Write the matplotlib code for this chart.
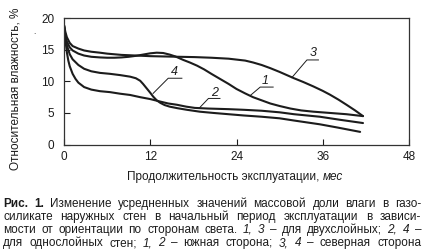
import matplotlib
matplotlib.use('Agg')
import matplotlib.pyplot as plt

plt.rcParams['font.family'] = ['Liberation Sans', 'DejaVu Sans']

# Curve 1 - two-layer walls, south side
months_1 = [0, 0.2, 0.4, 0.8, 1.2, 2, 2.8, 3.8, 5, 6, 7, 8, 9, 10, 11, 12, 12.9, 13.8,
            14.7, 15.5, 16.6, 17.5, 18.5, 19.5, 20.5, 21.7, 22.9, 24, 25.2, 26.3, 27.5,
            28.7, 30, 31.5, 33, 34.7, 37, 39.3, 41.6]
moist_1 = [18.9, 17.2, 16.3, 15.4, 14.9, 14.4, 14.1, 13.9, 13.8, 13.75, 13.75, 13.8, 13.9,
           14.05, 14.25, 14.45, 14.55, 14.5, 14.25, 13.95, 13.4, 13.0, 12.5, 11.9, 11.2,
           10.4, 9.6, 8.8, 8.1, 7.5, 7.0, 6.5, 6.1, 5.7, 5.4, 5.2, 5.0, 4.8, 4.5]

# Curve 2 - single-layer walls, south side
months_2 = [0, 0.2, 0.4, 0.6, 0.8, 1.2, 1.6, 2, 2.8, 3.8, 5, 6.4, 7.8, 9.2, 10.6, 12,
            13.4, 14.5, 15.7, 17, 18.2, 20, 22.9, 25, 27.5, 30, 32, 35.6, 38.5, 41.6]
moist_2 = [18.9, 16.5, 14.6, 13.3, 12.4, 11.2, 10.4, 9.8, 9.1, 8.7, 8.45, 8.3, 8.05, 7.85,
           7.5, 7.2, 6.8, 6.5, 6.3, 6.0, 5.8, 5.7, 5.6, 5.5, 5.35, 5.1, 4.8, 4.4, 3.9, 3.4]

# Curve 3 - two-layer walls, north side
months_3 = [0, 0.2, 0.4, 0.8, 1.2, 2, 2.8, 3.8, 5, 6, 8, 10, 12, 14, 16, 18.2, 20.5,
            22.9, 25.2, 26.3, 27.5, 28.7, 30, 31, 32, 33.3, 34.7, 36, 37, 38.2, 39.3,
            40.5, 41.6]
moist_3 = [18.9, 17.8, 17.0, 16.1, 15.6, 15.2, 14.9, 14.7, 14.55, 14.4, 14.2, 14.1, 14.0,
           13.95, 13.9, 13.85, 13.75, 13.6, 13.3, 13.0, 12.6, 12.1, 11.5, 11.0, 10.5, 9.9,
           9.2, 8.5, 7.9, 7.1, 6.3, 5.4, 4.5]

# Curve 4 - single-layer walls, north side
months_4 = [0, 0.2, 0.4, 0.8, 1.2, 2, 2.8, 3.8, 5, 6.4, 7.8, 9.2, 10, 10.6, 11, 11.5,
            12, 12.4, 12.9, 13.4, 14, 14.7, 15.8, 17.1, 18.9, 20.8, 22.9, 25, 27.5,
            30, 32, 35.6, 38, 41.2]
moist_4 = [18.9, 17.0, 15.7, 14.3, 13.5, 12.6, 12.0, 11.6, 11.35, 11.2, 11.0, 10.75, 10.5,
           10.1, 9.6, 8.9, 8.2, 7.6, 7.0, 6.6, 6.25, 6.0, 5.75, 5.5, 5.2, 5.0, 4.8, 4.6,
           4.4, 4.15, 3.8, 3.2, 2.7, 2.0]

x_ticks = [0, 12, 24, 36, 48]
y_ticks = [0, 5, 10, 15, 20]

# curve labels: text, text pos, underline x-range and y, pointer end
curve_labels = [
    ('4', (15.4, 11.5), (14.5, 16.4, 10.5), (12.4, 8.1)),
    ('2', (21.0, 8.1), (20.1, 21.7, 7.3), (18.8, 5.75)),
    ('1', (28.0, 10.0), (27.3, 29.1, 9.1), (25.9, 7.75)),
    ('3', (34.7, 14.45), (33.8, 35.4, 13.4), (31.7, 10.6)),
]

ylabel = 'Относительная влажность, %'
xlabel_runs = [('Продолжительность эксплуатации, ', 'normal'), ('мес', 'italic')]

# caption lines: (word, style)
caption = [
    [('Рис.', 'bold'), ('1.', 'bold'), ('Изменение', 'n'), ('усредненных', 'n'), ('значений', 'n'),
     ('массовой', 'n'), ('доли', 'n'), ('влаги', 'n'), ('в', 'n'), ('газо-', 'n')],
    [('силикате', 'n'), ('наружных', 'n'), ('стен', 'n'), ('в', 'n'), ('начальный', 'n'),
     ('период', 'n'), ('эксплуатации', 'n'), ('в', 'n'), ('зависи-', 'n')],
    [('мости', 'n'), ('от', 'n'), ('ориентации', 'n'), ('по', 'n'), ('сторонам', 'n'), ('света.', 'n'),
     ('1,', 'i'), ('3', 'i'), ('–', 'n'), ('для', 'n'), ('двухслойных;', 'n'), ('2,', 'i'), ('4', 'i'), ('–', 'n')],
    [('для', 'n'), ('однослойных', 'n'), ('стен;', 'n'), ('1,', 'i'), ('2', 'i'), ('–', 'n'),
     ('южная', 'n'), ('сторона;', 'n'), ('3,', 'i'), ('4', 'i'), ('–', 'n'), ('северная', 'n'), ('сторона', 'n')],
]

W, H = 423, 250
ink = '#1c1c1c'
fs = 8.5

fig = plt.figure(figsize=(W / 100, H / 100), dpi=100)
ax = fig.add_axes([64 / W, 1 - 144.5 / H, 345 / W, 126.2 / H])

for xs, ys in [(months_1, moist_1), (months_2, moist_2), (months_3, moist_3), (months_4, moist_4)]:
    ax.plot(xs, ys, color=ink, lw=1.5, solid_capstyle='round', solid_joinstyle='round')

for name, (tx, ty), (ux0, ux1, uy), (px, py) in curve_labels:
    ax.text(tx, ty, name, ha='center', va='center', fontsize=9, style='italic', color=ink)
    ax.plot([px, ux0, ux1], [py, uy, uy], color=ink, lw=0.7)

ax.set_xlim(0, 48)
ax.set_ylim(0, 20)
ax.set_xticks(x_ticks)
ax.set_yticks(y_ticks)
ax.tick_params(direction='in', length=4, width=0.8, colors=ink, labelsize=fs)
ax.tick_params(axis='x', pad=4.5)
ax.tick_params(axis='y', pad=7)
for sp in ax.spines.values():
    sp.set_color('#333333')
    sp.set_linewidth(0.9)

fig.text(16 / W, 1 - 89 / H, ylabel, rotation=90, ha='center', va='center', fontsize=fs, color=ink)
fig.text(34 / W, 1 - 33 / H, '.', ha='center', va='center', fontsize=6, color=ink)

fig.canvas.draw()
renderer = fig.canvas.get_renderer()


def word_width(s, weight='normal', style='normal'):
    t = fig.text(0, 0, s, fontsize=fs, weight=weight, style=style)
    w = t.get_window_extent(renderer).width
    t.remove()
    return w


# x label, centered under the axes
widths = [word_width(s, style=st) for s, st in xlabel_runs]
x = 235 - sum(widths) / 2
for (s, st), w in zip(xlabel_runs, widths):
    fig.text(x / W, 1 - 180 / H, s, fontsize=fs, style=st, va='baseline', color=ink)
    x += w

# justified caption
left, right = 3, 421
baselines = [207, 220, 233, 246]
for line, base in zip(caption, baselines):
    kws = []
    for word, st in line:
        kws.append({'weight': 'bold' if st == 'bold' else 'normal',
                    'style': 'italic' if st == 'i' else 'normal'})
    ws = [word_width(word, **kw) for (word, st), kw in zip(line, kws)]
    gap = (right - left - sum(ws)) / (len(line) - 1)
    x = left
    for (word, st), kw, w in zip(line, kws, ws):
        fig.text(x / W, 1 - base / H, word, fontsize=fs, va='baseline', color=ink, **kw)
        x += w + gap

fig.savefig('out.png', dpi=100)
